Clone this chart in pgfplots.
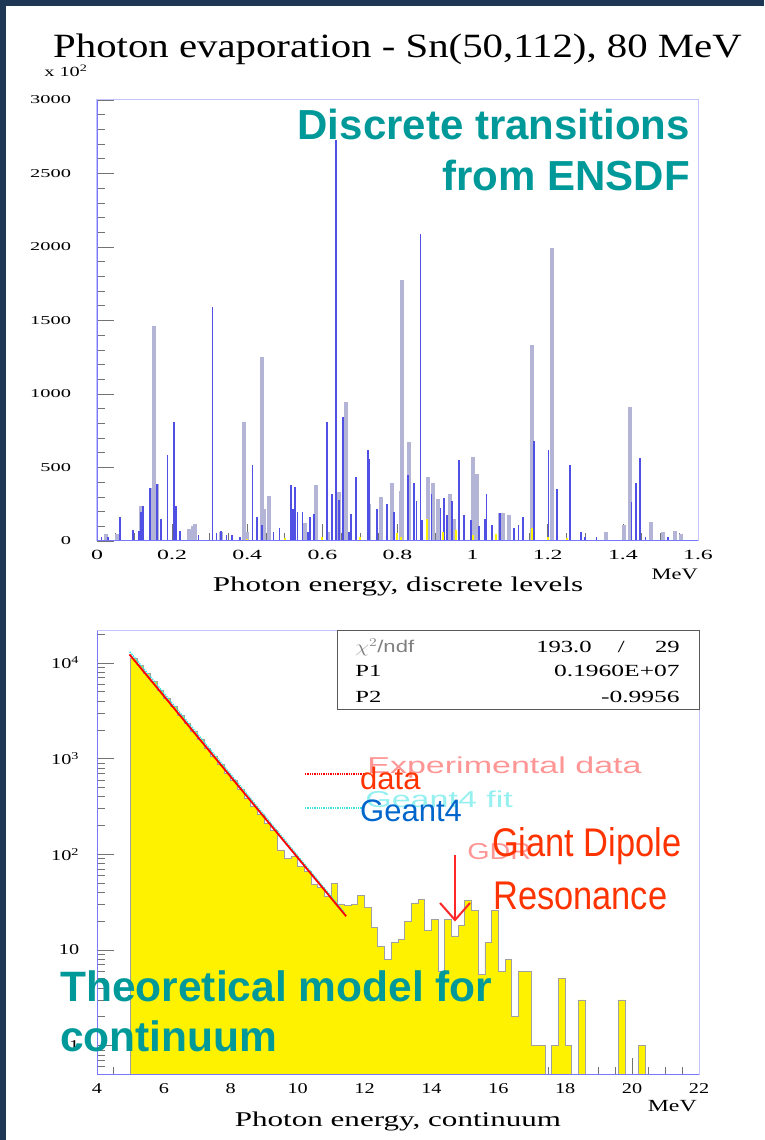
\documentclass[border=0pt]{standalone}
\usepackage{fontspec}
\setmainfont{Liberation Serif}
\newfontfamily\arial{Liberation Sans}
\usepackage{pgfplots}
\pgfplotsset{compat=1.18}
\definecolor{navy}{RGB}{30,55,85}
\definecolor{lav}{RGB}{195,195,255}
\definecolor{axb}{RGB}{120,120,250}
\definecolor{greybar}{RGB}{180,180,214}
\definecolor{bluebar}{RGB}{80,80,228}
\definecolor{tealc}{RGB}{0,153,153}
\definecolor{rootred}{RGB}{255,51,0}
\definecolor{g4blue}{RGB}{0,102,204}
\definecolor{histedge}{RGB}{160,160,160}
\definecolor{legred}{RGB}{255,150,150}
\definecolor{legcyan}{RGB}{150,240,240}
\definecolor{arrred}{RGB}{255,40,40}
\definecolor{fitcyan}{RGB}{60,225,225}

\begin{document}
\begin{tikzpicture}
\useasboundingbox (0,0) rectangle (764pt,1140pt);
\fill[white] (0,0) rectangle (764pt,1140pt);
\fill[navy] (0,0) rectangle (6pt,1140pt);
\fill[navy] (0,1134pt) rectangle (764pt,1140pt);

% ---------------- top panel ----------------
\begin{axis}[name=topax, at={(97pt,599pt)}, anchor=south west,
  scale only axis, width=601pt, height=441pt,
  xmin=0, xmax=1.6, ymin=0, ymax=3000,
  xtick={0,0.2,0.4,0.6,0.8,1,1.2,1.4,1.6},
  xticklabels={0,0.2,0.4,0.6,0.8,1,1.2,1.4,1.6},
  ytick={0,500,1000,1500,2000,2500,3000},
  yticklabels={0,500,1000,1500,2000,2500,3000},
  minor x tick num=3, minor y tick num=4,
  tick align=inside, xtick pos=left, ytick pos=left,
  major tick length=17pt, minor tick length=8pt,
  tick style={draw=black!55, line width=0.7pt},
  axis line style={draw=lav, line width=1pt},
  xticklabel style={font=\fontsize{14}{14}\selectfont, yshift=-6pt, xscale=1.7},
  yticklabel style={font=\fontsize{12}{12}\selectfont, xshift=-20pt, xscale=1.7},
  scaled ticks=false]
\addplot[ycomb, draw=greybar, line width=4pt] coordinates {
(0.024,48)(0.052,48)(0.117,240)(0.143,360)(0.151,1460)(0.159,385)(0.245,80)(0.255,100)(0.262,115)(0.33,60)(0.392,811)(0.40,60)(0.439,1250)(0.445,215)(0.457,303)(0.555,120)(0.584,383)(0.615,60)(0.645,330)(0.662,945)(0.725,250)(0.757,300)(0.786,395)(0.808,337)(0.813,1775)(0.830,672)(0.881,435)(0.894,395)(0.9085,285)(0.9387,320)(0.95,150)(1.0009,572)(1.0107,458)(1.072,190)(1.081,190)(1.097,176)(1.159,1330)(1.21,1990)(1.355,60)(1.4036,110)(1.4196,914)(1.4747,132)(1.5075,60)(1.5387,70)(1.555,50)
};
\addplot[ycomb, draw=bluebar, line width=1.8pt] coordinates {
(0.012,30)(0.03,30)(0.062,160)(0.096,75)(0.112,70)(0.118,200)(0.122,240)(0.142,360)(0.159,385)(0.171,148)(0.1876,583)(0.2044,811)(0.21,240)(0.222,70)(0.27,40)(0.3076,1590)(0.318,55)(0.33,70)(0.345,40)(0.36,40)(0.38,30)(0.414,515)(0.426,165)(0.44,110)(0.47,60)(0.486,85)(0.516,383)(0.521,215)(0.528,365)(0.534,200)(0.547,200)(0.561,60)(0.567,165)(0.578,185)(0.6124,811)(0.625,320)(0.6364,2730)(0.645,280)(0.655,843)(0.67,60)(0.677,185)(0.690,435)(0.7209,617)(0.725,560)(0.745,215)(0.772,255)(0.79,200)(0.8275,451)(0.8435,395)(0.8507,270)(0.8613,2085)(0.866,140)(0.8907,320)(0.9147,225)(0.9235,290)(0.9325,175)(0.9458,270)(0.9636,553)(0.977,175)(0.9947,140)(1.017,100)(1.032,150)(1.037,320)(1.0525,110)(1.072,190)(1.11,90)(1.122,110)(1.135,160)(1.1635,683)(1.2018,617)(1.224,353)(1.2587,515)(1.288,60)(1.30,30)(1.33,25)(1.423,262)(1.4347,394)(1.4453,565)(1.46,30)(1.52,25)
};
\addplot[ycomb, draw=yellow, line width=2pt] coordinates {
(0.40,15)(0.50,20)(0.60,25)(0.70,30)(0.799,55)(0.81,30)(0.879,150)(0.92,60)(0.955,75)(1.0,40)(1.063,50)(1.157,90)(1.2,30)(1.25,20)
};
\end{axis}
\draw[axb, line width=1pt] (topax.north west) -- (topax.south west) -- (topax.south east);

% ---------------- bottom panel ----------------
\begin{axis}[name=botax, at={(97pt,65pt)}, anchor=south west,
  scale only axis, width=602pt, height=444pt,
  xmin=4, xmax=22, ymode=log, ymin=0.493, ymax=21600,
  xtick={4,6,8,10,12,14,16,18,20,22},
  xticklabels={4,6,8,10,12,14,16,18,20,22},
  ytick={1,10,100,1000,10000},
  yticklabels={1,10,10\textsuperscript{2},10\textsuperscript{3},10\textsuperscript{4}},
  minor ytick={0.6,0.7,0.8,0.9,2,3,4,5,6,7,8,9,20,30,40,50,60,70,80,90,200,300,400,500,600,700,800,900,2000,3000,4000,5000,6000,7000,8000,9000,20000},
  minor x tick num=3,
  tick align=inside, xtick pos=left, ytick pos=left,
  major tick length=17pt, minor tick length=8pt,
  tick style={draw=black!55, line width=0.7pt},
  axis line style={draw=lav, line width=1pt},
  xticklabel style={font=\fontsize{15}{15}\selectfont, yshift=-5pt, xscale=1.35},
  yticklabel style={font=\fontsize{15}{15}\selectfont, xshift=-13pt, xscale=1.35},
  log basis y=10]
\addplot[const plot, fill=yellow, draw=histedge, line width=0.9pt] coordinates {
(5.0,0.05)(5.0,11200)(5.2,9500)(5.4,7800)(5.6,6400)(5.8,5200)(6.0,4300)(6.2,3500)(6.4,2850)(6.6,2350)(6.8,1930)(7.0,1580)(7.2,1290)(7.4,1060)(7.6,870)(7.8,700)(8.0,585)(8.2,480)(8.4,386)(8.6,320)(8.8,262)(9.0,211)(9.2,178)(9.4,111)(9.6,91)(9.8,95)(10.0,75)(10.2,66)(10.4,48)(10.6,45)(10.8,36)(11.0,50)(11.2,30)(11.4,29)(11.6,30)(11.8,37)(12.0,28)(12.2,17)(12.4,11)(12.6,8)(12.8,12)(13.0,13)(13.2,20)(13.4,31)(13.6,34)(13.8,16)(14.0,21)(14.2,6)(14.4,21)(14.6,14)(14.8,18)(15.0,33)(15.2,26)(15.4,5.5)(15.6,12)(15.8,26)(16.0,6)(16.2,8)(16.4,2)(16.6,6)(16.8,6)(17.0,1)(17.2,1)(17.4,0.05)(17.6,1)(17.8,5)(18.0,1)(18.2,0.05)(18.4,3)(18.6,0.05)(19.6,3)(19.8,0.05)(20.2,1)(20.4,0.05)
};
\addplot[fitcyan, densely dotted, line width=1.5pt] coordinates {(4.98,13100)(11.40,24.5)};
\addplot[red, line width=1.8pt] coordinates {(4.97,12300)(11.45,22.5)};
\end{axis}
\draw[axb, line width=1pt] (botax.north west) -- (botax.south west) -- (botax.south east);

% ---------------- annotations (pixel coordinates, y down) ----------------
\begin{scope}[x=1pt, y=-1pt, yshift=1140pt]
\node[anchor=base, inner sep=0pt, xscale=1.2] at (397.5,58) {\fontsize{34}{36}\selectfont Photon evaporation - Sn(50,112), 80 MeV};
\node[anchor=base east, inner sep=0pt, xscale=1.45] at (88,77) {\fontsize{14}{14}\selectfont x 10\textsuperscript{2}};
\node[anchor=base, inner sep=0pt, xscale=1.48] at (398,592) {\fontsize{21}{21}\selectfont Photon energy, discrete levels};
\node[anchor=base east, inner sep=0pt, xscale=1.4] at (698,580) {\fontsize{16}{16}\selectfont MeV};
\node[anchor=base, inner sep=0pt, xscale=1.48] at (398,1127) {\fontsize{21}{21}\selectfont Photon energy, continuum};
\node[anchor=base east, inner sep=0pt, xscale=1.4] at (697,1112) {\fontsize{17}{17}\selectfont MeV};
% stats box
\draw[fill=white, draw=black!65, line width=1pt] (337,631) rectangle (699,710);
\node[anchor=base west, inner sep=0pt, text=black!50, xscale=1.3] at (355,653) {\arial\fontsize{17}{17}\selectfont $\chi^2$/ndf};
\node[anchor=base west, inner sep=0pt, xscale=1.45] at (355,677) {\fontsize{17}{17}\selectfont P1};
\node[anchor=base west, inner sep=0pt, xscale=1.45] at (355,703) {\fontsize{17}{17}\selectfont P2};
\node[anchor=base east, inner sep=0pt, xscale=1.45] at (592,653) {\fontsize{17}{17}\selectfont 193.0};
\node[anchor=base east, inner sep=0pt, xscale=1.45] at (625,653) {\fontsize{17}{17}\selectfont /};
\node[anchor=base east, inner sep=0pt, xscale=1.45] at (680,653) {\fontsize{17}{17}\selectfont 29};
\node[anchor=base east, inner sep=0pt, xscale=1.5] at (680,677) {\fontsize{17}{17}\selectfont 0.1960E+07};
\node[anchor=base east, inner sep=0pt, xscale=1.5] at (680,703) {\fontsize{17}{17}\selectfont -0.9956};
% ROOT legend
\draw[red, densely dotted, line width=1.3pt] (305,774) -- (364,774);
\draw[fitcyan, densely dotted, line width=1.3pt] (305,808) -- (364,808);
\node[anchor=base west, inner sep=0pt, text=legred, xscale=1.48] at (367,774) {\arial\fontsize{23}{23}\selectfont Experimental data};
\node[anchor=base west, inner sep=0pt, text=legcyan, xscale=1.48] at (365,808) {\arial\fontsize{23}{23}\selectfont Geant4 fit};
\node[anchor=base west, inner sep=0pt, text=legred, xscale=1.25] at (467,860) {\arial\fontsize{23}{23}\selectfont GDR};
% overlays
\node[anchor=base west, inner sep=0pt, text=rootred] at (360,790) {\arial\fontsize{31}{31}\selectfont data};
\node[anchor=base west, inner sep=0pt, text=g4blue] at (360,822) {\arial\fontsize{31}{31}\selectfont Geant4};
\node[anchor=base west, inner sep=0pt, text=rootred, xscale=0.86] at (492,857) {\arial\fontsize{40}{40}\selectfont Giant Dipole};
\node[anchor=base west, inner sep=0pt, text=rootred, xscale=0.86] at (493,910) {\arial\fontsize{40}{40}\selectfont Resonance};
\draw[arrred, line width=2pt] (455,855) -- (455,920);
\draw[arrred, line width=2pt] (440,903) -- (455,920) -- (470,903);
\node[anchor=base east, inner sep=0pt, text=tealc] at (690,140) {\arial\bfseries\fontsize{42}{42}\selectfont Discrete transitions};
\node[anchor=base east, inner sep=0pt, text=tealc] at (690,191) {\arial\bfseries\fontsize{42}{42}\selectfont from ENSDF};
\node[anchor=base west, inner sep=0pt, text=tealc] at (60,1002) {\arial\bfseries\fontsize{42.5}{42.5}\selectfont Theoretical model for};
\node[anchor=base west, inner sep=0pt, text=tealc] at (60,1052) {\arial\bfseries\fontsize{42.5}{42.5}\selectfont continuum};
\end{scope}
\end{tikzpicture}
\end{document}
